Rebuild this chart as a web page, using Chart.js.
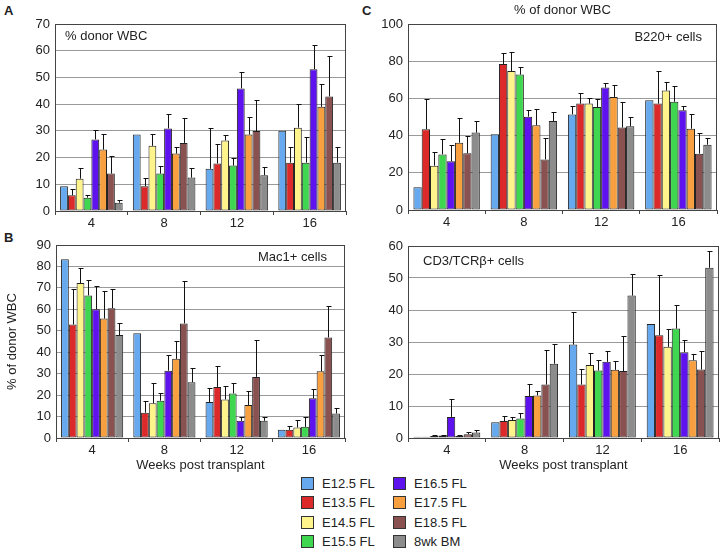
<!DOCTYPE html>
<html>
<head>
<meta charset="utf-8">
<script src="https://cdn.jsdelivr.net/npm/chart.js@4.4.1/dist/chart.umd.min.js"></script>
<style>
  body { margin: 0; background: #fff; font-family: "Liberation Sans", Arial, sans-serif; color: #222; }
  #page { position: relative; width: 722px; height: 554px; overflow: hidden; }
  canvas { position: absolute; }
  .letter { position: absolute; font-weight: bold; font-size: 13px; }
  .lg { position: absolute; font-size: 13px; line-height: 14px; white-space: nowrap; }
  .lg span { display: inline-block; width: 11px; height: 11px; border: 1px solid #333; vertical-align: -2px; margin-right: 8px; }
</style>
</head>
<body>
<div id="page">
  <div class="letter" style="left:4px;top:3px">A</div>
  <div class="letter" style="left:4px;top:230px">B</div>
  <div class="letter" style="left:362px;top:3px">C</div>
  <canvas id="chartA" width="350" height="232" style="left:0;top:0"></canvas>
  <canvas id="chartB" width="350" height="243" style="left:0;top:232px"></canvas>
  <canvas id="chartC1" width="362" height="232" style="left:360px;top:0"></canvas>
  <canvas id="chartC2" width="362" height="243" style="left:360px;top:232px"></canvas>
  <div id="legend"></div>
</div>
<script>
const weeks = ['4', '8', '12', '16'];
const seriesLabels = ['E12.5 FL', 'E13.5 FL', 'E14.5 FL', 'E15.5 FL', 'E16.5 FL', 'E17.5 FL', 'E18.5 FL', '8wk BM'];
const seriesColors = ['#66a9ee', '#dc2a2a', '#fff48c', '#3fd74f', '#5e12ee', '#f8a040', '#8a5151', '#8c8c8c'];

// one row per series, values for weeks 4, 8, 12, 16 ; *Err = top of error bar
const wbcMean = [
  [9.3, 28.6, 15.8, 30], [5.9, 9.3, 17.8, 18.1], [12.1, 24.4, 26.4, 31.2], [5, 14, 17, 18.1],
  [26.8, 30.9, 45.9, 53.1], [23, 21.5, 28.6, 39], [14, 25.5, 29.9, 42.9], [3.1, 12.5, 13.4, 18.1]
];
const wbcErr = [
  [null, null, 31.1, null], [8.4, 12.5, 25, 23.9], [16.1, 29, 28.3, 40.1], [5.9, 17, 20, 27.6],
  [30.3, 36.4, 52, 62], [29, 23.9, 35.3, 47.4], [20.6, 34.9, 41.5, 58.1], [4, 16.1, 16.5, 23.9]
];
const mac1Mean = [
  [83.4, 48.8, 16.8, 3.8], [52.9, 11.8, 23.8, 3.8], [72.3, 16.2, 18, 4.9], [66.5, 17.4, 20.8, 5.2],
  [60, 31.4, 8, 18.5], [55.7, 36.9, 15.4, 31.1], [60.5, 53.4, 28.5, 46.9], [48, 26, 8, 11.4]
];
const mac1Err = [
  [null, null, 23.4, null], [69.5, 17.4, 33.8, 5.8], [79.2, 25.8, 24.3, 8.5], [73.8, 20.8, 25.8, 9.7],
  [70.8, 38.9, 9.7, 22.9], [68.5, 45.2, 22, 38.9], [69.5, 73.1, 45.8, 61.4], [53.8, 32.8, 9.7, 13.8]
];
const b220Mean = [
  [12.2, 40.7, 51.4, 59], [43.4, 78.5, 57.2, 57.2], [23.8, 74.7, 57.2, 64.2], [29.9, 72.8, 55.4, 58.2],
  [26.2, 50.2, 65.8, 53.6], [36.2, 45.5, 60.8, 43.7], [30.5, 27.2, 44.3, 30.3], [41.6, 47.8, 45, 35.1]
];
const b220Err = [
  [null, null, 55.9, null], [59.5, 84.6, 63.1, 74.9], [31, 85.1, 60.4, 68.6], [38, 77.1, 59.9, 66.7],
  [34.8, 53.8, 68.1, 55.9], [49.6, 54.1, 67, 51.4], [39.8, 38.5, 58.2, 41.2], [47.8, 52.7, 50.2, 38.9]
];
const cd3Mean = [
  [0.4, 4.9, 29.2, 35.6], [0.4, 5.3, 16.7, 32.1], [0.6, 5.6, 22.8, 28.5], [0.8, 6.1, 21.1, 34.2],
  [6.6, 13.1, 23.8, 26.8], [0.6, 13.3, 21.3, 24.3], [1.2, 16.7, 20.9, 21.4], [1.7, 23.2, 44.5, 53.2]
];
const cd3Err = [
  [null, null, 39.3, null], [null, 6.9, 21.7, 50.8], [0.8, 6.7, 26.7, 34.2], [1, 7.7, 24.5, 41.7],
  [12.1, 17, 27.1, 30.5], [0.8, 14.7, 24.1, 26.1], [1.8, 27.4, 31.9, 27.1], [2.4, 29.5, 51.1, 58.3]
];

const FONT = '"Liberation Sans", Arial, sans-serif';

// upward error bars with a small cap
const errorBars = {
  id: 'errorBars',
  afterDatasetsDraw(chart) {
    const ctx = chart.ctx;
    const y = chart.scales.y;
    ctx.save();
    ctx.strokeStyle = '#111';
    ctx.lineWidth = 1;
    chart.data.datasets.forEach((ds, i) => {
      chart.getDatasetMeta(i).data.forEach((bar, j) => {
        const top = ds.errTop[j];
        if (top == null) return;
        const x = Math.round(bar.x) + 0.5;
        const yt = Math.round(y.getPixelForValue(top)) + 0.5;
        ctx.beginPath();
        ctx.moveTo(x, bar.y);
        ctx.lineTo(x, yt);
        ctx.moveTo(x - 2, yt);
        ctx.lineTo(x + 3, yt);
        ctx.stroke();
      });
    });
    ctx.restore();
  }
};

// box around plot area + in-plot notes
const frameNotes = {
  id: 'frameNotes',
  afterDraw(chart, args, opts) {
    const ctx = chart.ctx;
    const a = chart.chartArea;
    ctx.save();
    ctx.strokeStyle = '#444';
    ctx.lineWidth = 1;
    ctx.strokeRect(Math.round(a.left) + 0.5, Math.round(a.top) + 0.5,
      Math.round(a.right - a.left) - 1, Math.round(a.bottom - a.top));
    ctx.fillStyle = '#222';
    ctx.font = '13px ' + FONT;
    ctx.textBaseline = 'middle';
    (opts.notes || []).forEach(n => {
      ctx.textAlign = n.align;
      let x = n.align === 'left' ? a.left + n.dx : n.align === 'right' ? a.right - n.dx : (a.left + a.right) / 2;
      ctx.fillText(n.text, x, a.top + n.dy);
    });
    ctx.restore();
  }
};

function makeChart(id, means, errs, yMax, yStep, opt) {
  return new Chart(document.getElementById(id), {
    type: 'bar',
    data: {
      labels: weeks,
      datasets: seriesLabels.map((name, i) => ({
        label: name,
        data: means[i],
        errTop: errs[i],
        backgroundColor: seriesColors[i],
        borderColor: '#222',
        borderWidth: 1,
        borderSkipped: false,
        categoryPercentage: 0.86,
        barPercentage: 1
      }))
    },
    options: {
      responsive: false,
      animation: false,
      layout: { padding: { left: 0, right: opt.padRight, top: opt.padTop, bottom: 0 } },
      plugins: {
        legend: { display: false },
        tooltip: { enabled: false },
        frameNotes: { notes: opt.notes }
      },
      scales: {
        x: {
          afterFit: s => { s.height = opt.xHeight; },
          grid: { drawOnChartArea: false, tickLength: 4, color: '#444' },
          border: { color: '#444' },
          ticks: { color: '#222', padding: 1, font: { family: FONT, size: 13 } },
          title: {
            display: !!opt.xTitle, text: opt.xTitle, color: '#222',
            font: { family: FONT, size: 13 }, padding: { top: 0, bottom: 2 }
          }
        },
        y: {
          min: 0, max: yMax,
          afterFit: s => { s.width = opt.yWidth; },
          grid: { color: '#9a9a9a', drawTicks: false },
          border: { color: '#444' },
          ticks: { stepSize: yStep, color: '#222', padding: 5, font: { family: FONT, size: 13 } },
          title: {
            display: !!opt.yTitle, text: opt.yTitle, color: '#222',
            font: { family: FONT, size: 13 }, padding: { top: 5, bottom: 0 }
          }
        }
      }
    },
    plugins: [errorBars, frameNotes]
  });
}

makeChart('chartA', wbcMean, wbcErr, 70, 10, {
  padTop: 24, padRight: 4, yWidth: 55, xHeight: 21,
  notes: [{ text: '% donor WBC', align: 'left', dx: 10, dy: 12 }]
});
makeChart('chartB', mac1Mean, mac1Err, 90, 10, {
  padTop: 13, padRight: 5, yWidth: 56, xHeight: 37,
  xTitle: 'Weeks post transplant', yTitle: '% of donor WBC',
  notes: [{ text: 'Mac1+ cells', align: 'right', dx: 18, dy: 12 }]
});
makeChart('chartC1', b220Mean, b220Err, 100, 20, {
  padTop: 24, padRight: 5, yWidth: 48, xHeight: 22,
  notes: [
    { text: '% of donor WBC', align: 'center', dx: 0, dy: -14 },
    { text: 'B220+ cells', align: 'right', dx: 15, dy: 13 }
  ]
});
makeChart('chartC2', cd3Mean, cd3Err, 60, 10, {
  padTop: 14, padRight: 3, yWidth: 48, xHeight: 37,
  xTitle: 'Weeks post transplant',
  notes: [{ text: 'CD3/TCR\u03b2+ cells', align: 'left', dx: 15, dy: 15 }]
});

// legend: two columns, filled top to bottom
const legend = document.getElementById('legend');
seriesLabels.forEach((name, i) => {
  const col = Math.floor(i / 4), row = i % 4;
  const d = document.createElement('div');
  d.className = 'lg';
  d.style.left = (301 + col * 92) + 'px';
  d.style.top = (477 + row * 19.3) + 'px';
  d.innerHTML = '<span style="background:' + seriesColors[i] + '"></span>' + name;
  legend.appendChild(d);
});
</script>
</body>
</html>
